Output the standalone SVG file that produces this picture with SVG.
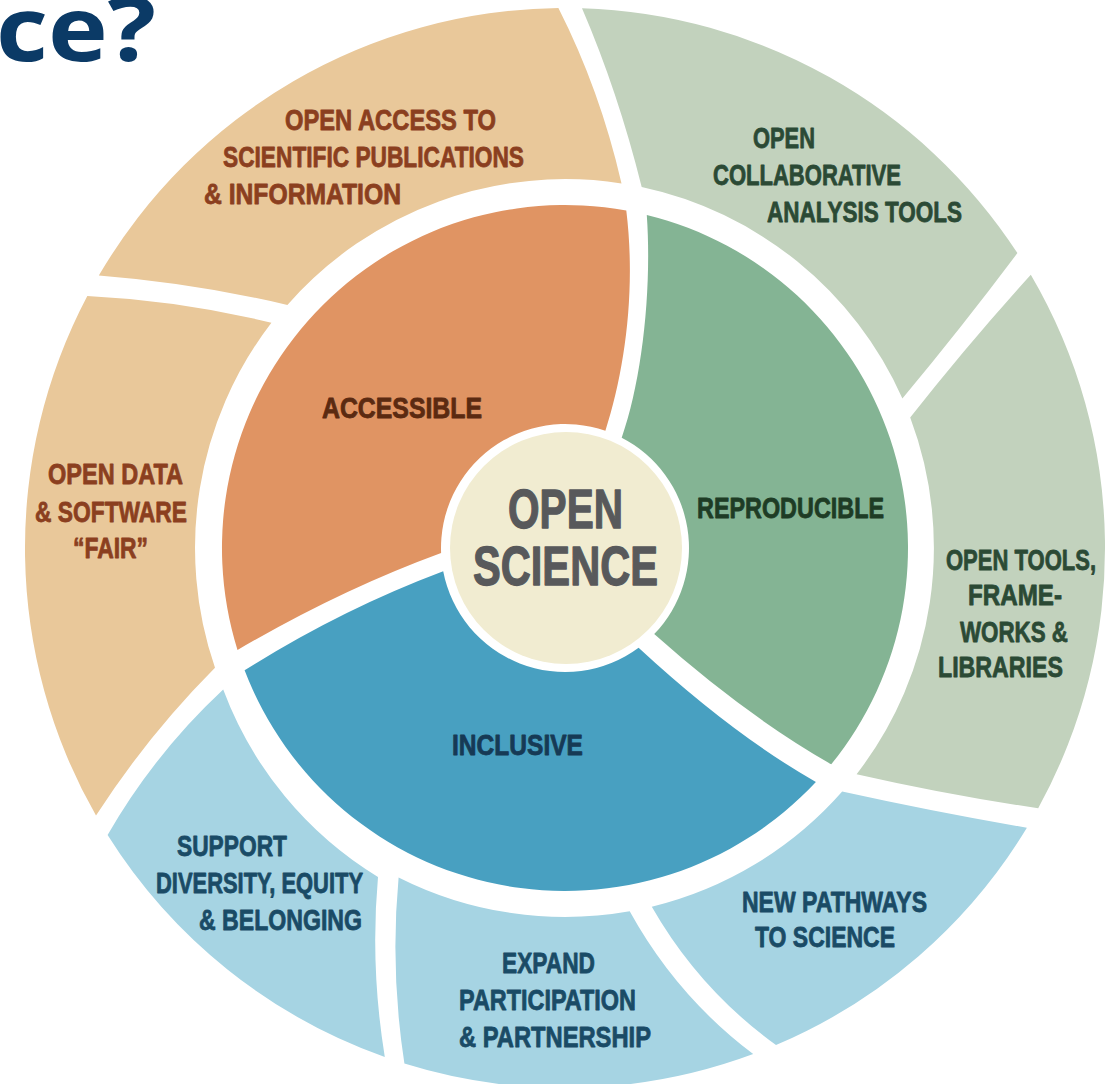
<svg xmlns="http://www.w3.org/2000/svg" width="1107" height="1084" viewBox="0 0 1107 1084">
  <style>
    text { font-family: "Liberation Sans Narrow", "Liberation Sans", Arial, sans-serif; font-weight: bold; }
    .lbl { font-size: 29px; stroke-width: 0.8px; stroke-linejoin: round; }
    .core { font-size: 55px; fill: #58595b; stroke: #58595b; stroke-width: 1.3px; stroke-linejoin: round; }
    .title { font-family: "Open Sans", "Noto Sans", sans-serif; font-size: 90px; fill: #0b3a66; }
    .tan { fill: #e9c89a; }
    .orange { fill: #e09463; }
    .sage { fill: #c2d2bd; }
    .green { fill: #84b494; }
    .sky { fill: #a6d4e3; }
    .blue { fill: #48a0c1; }
    .t-brown { fill: #8b3f1f; stroke: #8b3f1f; }
    .t-dbrown { fill: #5b2a11; stroke: #5b2a11; }
    .t-green { fill: #2b4a35; stroke: #2b4a35; }
    .t-dgreen { fill: #1e3c25; stroke: #1e3c25; }
    .t-navy { fill: #1a4b66; stroke: #1a4b66; }
    .t-dnavy { fill: #163a55; stroke: #163a55; }
  </style>

  <rect width="1107" height="1084" fill="#ffffff"/>

  <!-- heading fragment at the top-left corner -->
  <text class="title" x="-4" y="61" textLength="160" lengthAdjust="spacingAndGlyphs">ce?</text>

  <!-- outer ring -->
  <g id="open-access-publications">
    <path class="tan" d="M 98.8,275.6 A 540 540 0 0 1 558.4,8 Q 600,90 621.5,183.4 A 370 370 0 0 0 287.4,304.9 Q 193,283 98.8,275.6 Z"/>
    <text class="lbl t-brown" x="285" y="130" textLength="211" lengthAdjust="spacingAndGlyphs">OPEN ACCESS TO</text>
    <text class="lbl t-brown" x="223" y="167" textLength="301" lengthAdjust="spacingAndGlyphs">SCIENTIFIC PUBLICATIONS</text>
    <text class="lbl t-brown" x="204" y="204" textLength="197" lengthAdjust="spacingAndGlyphs">&amp; INFORMATION</text>
  </g>

  <g id="open-collaborative-tools">
    <path class="sage" d="M 582,8.3 A 540 540 0 0 1 1017.4,253.1 Q 962,327 902.4,398.5 A 370 370 0 0 0 641.7,187.1 Q 618,92 582,8.3 Z"/>
    <text class="lbl t-green" x="753" y="148" textLength="62" lengthAdjust="spacingAndGlyphs">OPEN</text>
    <text class="lbl t-green" x="713" y="185" textLength="188" lengthAdjust="spacingAndGlyphs">COLLABORATIVE</text>
    <text class="lbl t-green" x="767" y="222" textLength="195" lengthAdjust="spacingAndGlyphs">ANALYSIS TOOLS</text>
  </g>

  <g id="open-tools-frameworks">
    <path class="sage" d="M 1030.8,274.8 A 540 540 0 0 1 1038.2,808.2 Q 948,795 856.6,774.2 A 370 370 0 0 0 910.2,417.6 Q 968,344 1030.8,274.8 Z"/>
    <text class="lbl t-green" x="946" y="570" textLength="150" lengthAdjust="spacingAndGlyphs">OPEN TOOLS,</text>
    <text class="lbl t-green" x="968" y="605" textLength="94" lengthAdjust="spacingAndGlyphs">FRAME-</text>
    <text class="lbl t-green" x="960" y="642" textLength="108" lengthAdjust="spacingAndGlyphs">WORKS &amp;</text>
    <text class="lbl t-green" x="938" y="677" textLength="125" lengthAdjust="spacingAndGlyphs">LIBRARIES</text>
  </g>

  <g id="new-pathways">
    <path class="sky" d="M 1026.9,827.7 A 540 540 0 0 1 776,1045.1 Q 698.9,989.1 651.8,906.7 A 370 370 0 0 0 842.2,791.5 Q 935,812 1026.9,827.7 Z"/>
    <text class="lbl t-navy" x="742" y="912" textLength="185" lengthAdjust="spacingAndGlyphs">NEW PATHWAYS</text>
    <text class="lbl t-navy" x="755" y="947" textLength="140" lengthAdjust="spacingAndGlyphs">TO SCIENCE</text>
  </g>

  <g id="expand-participation">
    <path class="sky" d="M 753.2,1054.1 A 540 540 0 0 1 404.4,1063.6 Q 390,970 398.6,877.4 A 370 370 0 0 0 629.7,911.3 Q 676.5,996.2 753.2,1054.1 Z"/>
    <text class="lbl t-navy" x="502" y="973" textLength="93" lengthAdjust="spacingAndGlyphs">EXPAND</text>
    <text class="lbl t-navy" x="459" y="1010" textLength="177" lengthAdjust="spacingAndGlyphs">PARTICIPATION</text>
    <text class="lbl t-navy" x="459" y="1047" textLength="192" lengthAdjust="spacingAndGlyphs">&amp; PARTNERSHIP</text>
  </g>

  <g id="support-diversity">
    <path class="sky" d="M 384.8,1057 A 540 540 0 0 1 107.6,835 Q 154.4,753.6 223.2,689.6 A 372 372 0 0 0 378,877 Q 370,966 384.8,1057 Z"/>
    <text class="lbl t-navy" x="177" y="856" textLength="110" lengthAdjust="spacingAndGlyphs">SUPPORT</text>
    <text class="lbl t-navy" x="156" y="893" textLength="207" lengthAdjust="spacingAndGlyphs">DIVERSITY, EQUITY</text>
    <text class="lbl t-navy" x="199" y="930" textLength="163" lengthAdjust="spacingAndGlyphs">&amp; BELONGING</text>
  </g>

  <g id="open-data-software">
    <path class="tan" d="M 96,815.6 A 540 540 0 0 1 87.3,296.1 Q 179.4,300.6 271.4,322.7 A 370 370 0 0 0 215,667.8 Q 147.7,735.4 96,815.6 Z"/>
    <text class="lbl t-brown" x="48" y="484" textLength="135" lengthAdjust="spacingAndGlyphs">OPEN DATA</text>
    <text class="lbl t-brown" x="35" y="522" textLength="152" lengthAdjust="spacingAndGlyphs">&amp; SOFTWARE</text>
    <text class="lbl t-brown" x="73" y="558" textLength="75" lengthAdjust="spacingAndGlyphs">“FAIR”</text>
  </g>

  <!-- inner ring -->
  <g id="accessible">
    <path class="orange" d="M 237.5,650 A 343 343 0 0 1 626.3,210.5 C 636,290 625,370 605.4,430.8 A 124 124 0 0 0 441.1,553 Q 340,590 237.5,650 Z"/>
    <text class="lbl t-dbrown" x="322" y="418" textLength="160" lengthAdjust="spacingAndGlyphs">ACCESSIBLE</text>
  </g>

  <g id="reproducible">
    <path class="green" d="M 646.8,214.9 A 343 343 0 0 1 831.2,764.3 Q 745,715 654.2,634.1 A 124 124 0 0 0 621.7,437.7 C 642,380 652,290 646.8,214.9 Z"/>
    <text class="lbl t-dgreen" x="697" y="518" textLength="187" lengthAdjust="spacingAndGlyphs">REPRODUCIBLE</text>
  </g>

  <g id="inclusive">
    <path class="blue" d="M 443.2,571.2 Q 340,610 244.6,670.3 A 343 343 0 0 0 815.9,781.9 Q 733,735 638.6,647.8 A 124 124 0 0 1 443.2,571.2 Z"/>
    <text class="lbl t-dnavy" x="452" y="755" textLength="131" lengthAdjust="spacingAndGlyphs">INCLUSIVE</text>
  </g>

  <!-- hub -->
  <g id="open-science">
    <circle cx="566" cy="548" r="116" fill="#f1ecd1"/>
    <text class="core" x="508" y="528" textLength="115" lengthAdjust="spacingAndGlyphs">OPEN</text>
    <text class="core" x="473" y="585" textLength="185" lengthAdjust="spacingAndGlyphs">SCIENCE</text>
  </g>

  <!-- no connectors in this layout -->
  <g id="connectors"/>
</svg>
